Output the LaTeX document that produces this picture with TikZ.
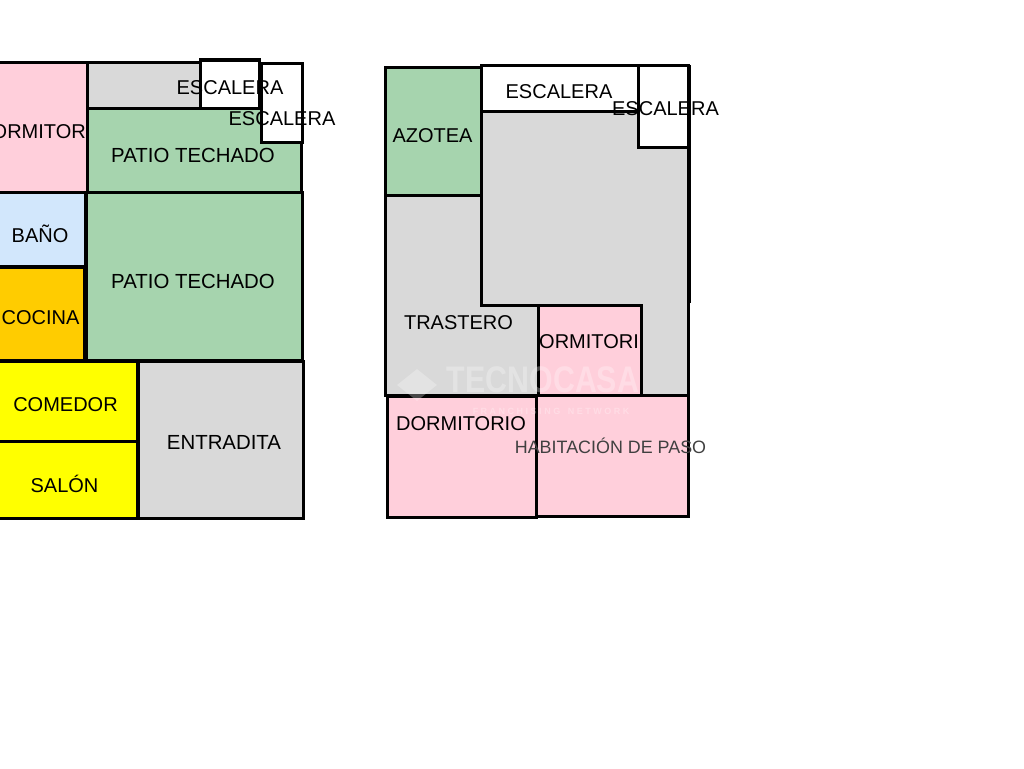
\documentclass[tikz,border=0pt]{standalone}
\usepackage{fontspec}
\setmainfont{Liberation Sans}
\usepackage{tikz}
\usetikzlibrary{positioning,calc,shapes.geometric}
\definecolor{rosa}{HTML}{FFCFDB}
\definecolor{gris}{HTML}{D9D9D9}
\definecolor{verde}{HTML}{A6D4AE}
\definecolor{celeste}{HTML}{D2E7FC}
\definecolor{naranja}{HTML}{FFCC00}
\definecolor{amarillo}{HTML}{FFFF00}
\begin{document}
\begin{tikzpicture}[x=1pt,y=-1pt,line join=miter]
\tikzset{room/.style={draw=black,line width=3pt},
  lbl/.style={inner sep=0pt,font=\fontsize{20}{22}\selectfont,text=black},
  widelbl/.style={inner sep=0pt,font=\fontsize{20.4}{22}\selectfont,text=black},
  thinlbl/.style={inner sep=0pt,font=\fontsize{17.9}{20}\selectfont,text=black!75},
  marca/.style={inner sep=0pt,text=white,opacity=0.28}}
\useasboundingbox (0,0) rectangle (1024,768);
\begin{scope}
\clip (0,0) rectangle (1024,768);
% left block
\draw[room,fill=rosa] (-5,62) rectangle (87,192);
\draw[room,fill=gris] (87,62) rectangle (200,108);
\draw[room,fill=white] (261,63) rectangle (302,142);
\draw[room,fill=celeste] (-5,192) rectangle (85,266);
\draw[room,fill=naranja] (-5,267) rectangle (84,360);
\draw[room,fill=verde] (87,108) -- (261,108) -- (261,142) -- (301,142) -- (301,192) -- (87,192) -- cycle;
\draw[room,fill=white] (200,60) rectangle (259,108);
\draw[room,fill=verde] (86,192) rectangle (302,360);
\draw[room,fill=amarillo] (-5,361) rectangle (137,441);
\draw[room,fill=amarillo] (-5,441) rectangle (137,518);
\draw[room,fill=gris] (138,361) rectangle (303,518);
% right block
\draw[room,fill=gris] (481,111) -- (638,111) -- (638,147) -- (688,147) -- (688,395) -- (641,395) -- (641,305) -- (481,305) -- cycle;
\draw[room,fill=gris] (385,195) -- (481,195) -- (481,305) -- (538,305) -- (538,395) -- (385,395) -- cycle;
\draw[room,fill=verde] (385,67) rectangle (481,195);
\draw[room,fill=white] (481,65) rectangle (638,111);
\draw[room,fill=white] (638,65) rectangle (688,147);
\draw[room,fill=rosa] (538,305) rectangle (641,395);
\draw[room,fill=rosa] (387,396) rectangle (536,517);
\draw[room,fill=rosa] (536,395) rectangle (688,516);
\draw[line width=4pt] (688.5,65) -- (688.5,303);
\end{scope}
% watermark
\node[marca,font=\bfseries\fontsize{37}{37}\selectfont,xscale=0.82] (logo) at (543,380) {TECNOCASA};
\node[marca,font=\bfseries\fontsize{9}{9}\selectfont] (red) at (551,411) {F R A N C H I S I N G\ \ \ N E T W O R K};
\node[marca,shape=diamond,aspect=1.2,fill=white,minimum width=40pt,minimum height=32pt] (casa) at (417,385) {};
% labels
\node[lbl] (esc1) at (230,88) {ESCALERA};
\node[lbl] (esc2) at (282,119) {ESCALERA};
\node[lbl,anchor=east] (dorm1) at (86,132) {ORMITOR};
\node[widelbl] (patio1) at (193,155) {PATIO TECHADO};
\node[widelbl] (patio2) at (193,281) {PATIO TECHADO};
\node[lbl] (bano) at (40,234) {BAÑO};
\node[lbl] (cocina) at (40.5,318) {COCINA};
\node[lbl] (comedor) at (65.5,405) {COMEDOR};
\node[lbl] (salon) at (64.5,484) {SALÓN};
\node[widelbl] (entradita) at (224,442) {ENTRADITA};
\node[lbl] (azotea) at (432.5,136) {AZOTEA};
\node[lbl] (esc3) at (559,92) {ESCALERA};
\node[lbl] (esc4) at (665.5,109) {ESCALERA};
\node[lbl] (trastero) at (458.5,323) {TRASTERO};
\node[lbl] (dorm2) at (589,342) {ORMITORI};
\node[lbl] (dorm3) at (461,424) {DORMITORIO};
\node[thinlbl] (paso) at (610.5,446) {HABITACIÓN DE PASO};
\end{tikzpicture}
\end{document}
